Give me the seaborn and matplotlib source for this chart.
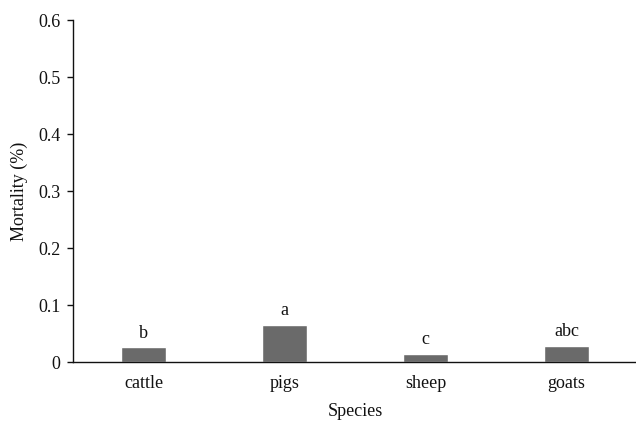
import matplotlib
matplotlib.use("Agg")
import matplotlib.pyplot as plt
import seaborn as sns
import pandas as pd

species = ["cattle", "pigs", "sheep", "goats"]
mortality = [0.026, 0.065, 0.014, 0.028]
letters = ["b", "a", "c", "abc"]
yticks = [0, 0.1, 0.2, 0.3, 0.4, 0.5, 0.6]
ytick_labels = ["0", "0.1", "0.2", "0.3", "0.4", "0.5", "0.6"]

sns.set_theme(style="white")
plt.rcParams["font.family"] = ["Liberation Serif", "DejaVu Serif"]

df = pd.DataFrame({"Species": species, "Mortality": mortality})

fig = plt.figure(figsize=(6.36, 4.23), dpi=100)
ax = fig.add_axes([73 / 636, 61 / 423, 564 / 636, 342 / 423])

sns.barplot(data=df, x="Species", y="Mortality", color="#6a6a6a",
            saturation=1, width=0.315, ax=ax)

fs = 13
for patch, lab in zip(ax.patches, letters):
    ax.annotate(lab, (patch.get_x() + patch.get_width() / 2, patch.get_height()),
                xytext=(0, 4), textcoords="offset points",
                ha="center", va="bottom", fontsize=fs, color="#111111")

ax.set_ylim(0, 0.6)
ax.set_xlim(-0.5, 3.5)
ax.set_yticks(yticks)
ax.set_yticklabels(ytick_labels, fontsize=fs, color="#111111")
ax.tick_params(axis="x", length=0, labelsize=fs, pad=9, colors="#111111")
ax.tick_params(axis="y", length=4, width=1, direction="out", pad=5, left=True, colors="#111111")
ax.set_xlabel("Species", fontsize=fs, color="#111111", labelpad=8)
ax.set_ylabel("Mortality (%)", fontsize=fs, color="#111111", labelpad=7)

for side in ("top", "right"):
    ax.spines[side].set_visible(False)
for side in ("left", "bottom"):
    ax.spines[side].set_color("#111111")
    ax.spines[side].set_linewidth(1.0)

fig.savefig("out.png", dpi=100)
